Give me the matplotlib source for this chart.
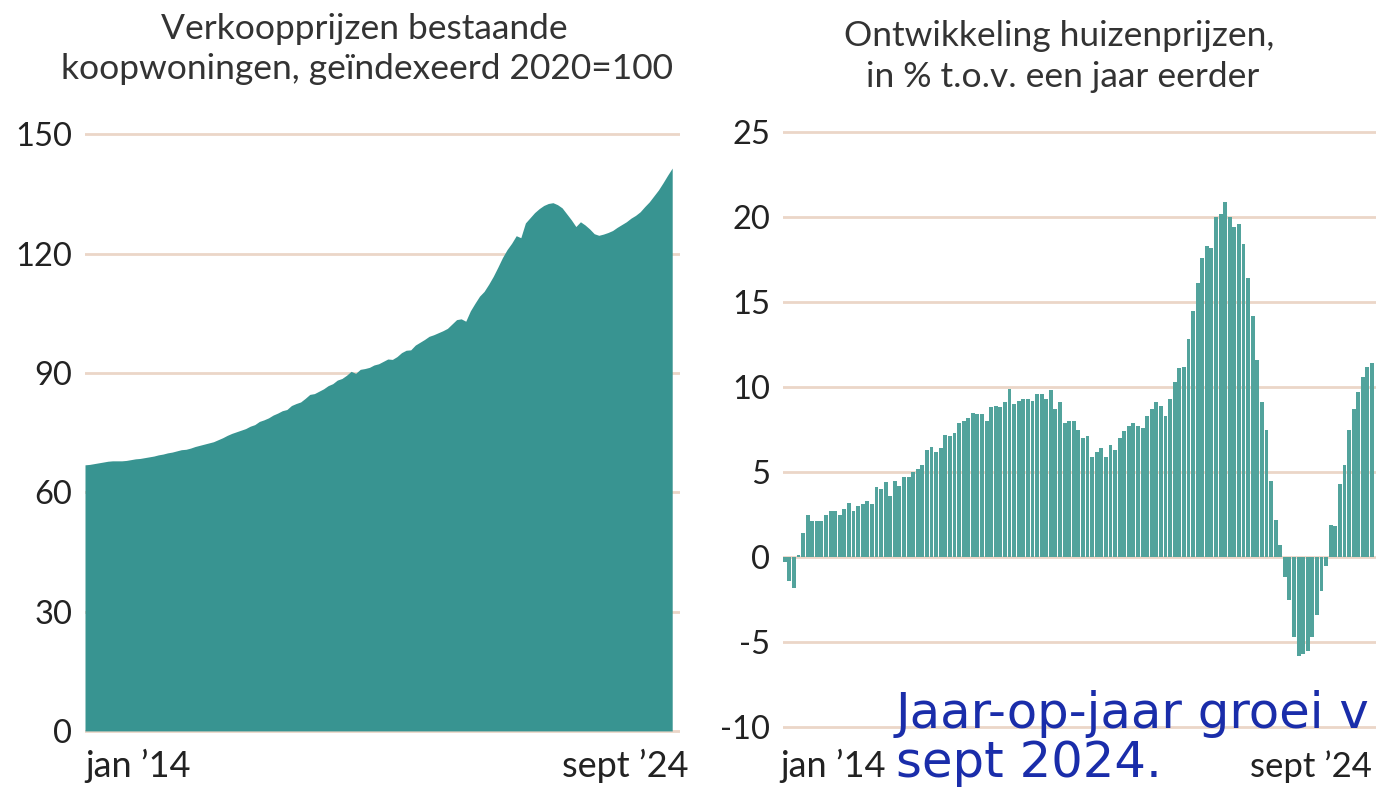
import matplotlib.pyplot as plt
import numpy as np

# verkoopprijzen bestaande koopwoningen, index 2020=100, jan 2014 - sept 2024
prices = [
    66.9, 67.0, 67.2, 67.4, 67.6, 67.8, 67.9, 67.9, 67.9, 68.0, 68.2, 68.4,
    68.5, 68.7, 68.9, 69.1, 69.4, 69.6, 69.9, 70.1, 70.4, 70.7, 70.8, 71.1,
    71.5, 71.8, 72.1, 72.4, 72.7, 73.2, 73.7, 74.3, 74.8, 75.2, 75.6, 76.0,
    76.6, 77.0, 77.8, 78.2, 78.7, 79.4, 79.9, 80.5, 80.8, 81.8, 82.3, 82.7,
    83.6, 84.6, 84.8, 85.4, 86.0, 86.8, 87.3, 88.2, 88.6, 89.4, 90.4, 89.9,
    90.9, 91.1, 91.4, 92.0, 92.3, 92.9, 93.5, 93.4, 94.1, 95.1, 95.7, 95.8,
    97.0, 97.7, 98.4, 99.2, 99.6, 100.1, 100.6, 101.2, 102.3, 103.4, 103.6, 103.0,
    105.6, 107.5, 109.3, 110.5, 112.3, 114.3, 116.6, 119.0, 121.0, 122.6, 124.5, 124.0,
    127.7, 129.0, 130.3, 131.3, 132.1, 132.6, 132.8, 132.3, 131.5, 130.0, 128.5, 126.8,
    128.0, 127.2, 126.2, 125.0, 124.6, 124.9, 125.3, 125.8, 126.6, 127.3, 128.0, 128.9,
    129.6, 130.5, 131.8, 133.0, 134.5, 136.0, 137.8, 139.7, 141.5,
]

# ontwikkeling huizenprijzen, % t.o.v. een jaar eerder
yoy = [
    -0.3, -1.4, -1.8, 0.1, 1.4, 2.5, 2.1, 2.1, 2.1, 2.5, 2.7, 2.7,
    2.5, 2.8, 3.2, 2.7, 3.0, 3.1, 3.3, 3.1, 4.1, 4.0, 4.4, 3.6,
    4.5, 4.2, 4.7, 4.7, 5.0, 5.2, 5.4, 6.3, 6.5, 6.2, 6.4, 7.2,
    7.1, 7.3, 7.9, 8.0, 8.2, 8.5, 8.4, 8.4, 8.0, 8.8, 8.9, 8.8,
    9.1, 9.9, 9.0, 9.2, 9.3, 9.3, 9.2, 9.6, 9.6, 9.3, 9.8, 8.7,
    9.1, 7.9, 8.0, 8.0, 7.5, 7.0, 7.1, 5.9, 6.2, 6.4, 5.9, 6.6,
    6.3, 7.0, 7.4, 7.7, 7.9, 7.7, 7.6, 8.3, 8.7, 9.1, 8.9, 8.3,
    9.3, 10.3, 11.1, 11.2, 12.8, 14.5, 16.1, 17.6, 18.3, 18.2, 20.0, 20.2,
    20.9, 20.0, 19.4, 19.6, 18.4, 16.4, 14.2, 11.6, 9.1, 7.5, 4.5, 2.2,
    0.7, -1.2, -2.5, -4.7, -5.8, -5.7, -5.5, -4.7, -3.4, -2.0, -0.5, 1.9,
    1.8, 4.3, 5.4, 7.5, 8.7, 9.7, 10.6, 11.2, 11.4,
]

left_ticks = [0, 30, 60, 90, 120, 150]
right_ticks = [-10, -5, 0, 5, 10, 15, 20, 25]
first_label = "jan \u201914"
last_label = "sept \u201924"

W, H = 1376, 790
TEAL = "#389491"
BAR = "#52A39C"
GRID = "#EBD6C8"
INK = "#222222"
TITLE = "#333333"

plt.rcParams["font.family"] = ["Lato", "DejaVu Sans"]

fig = plt.figure(figsize=(W / 100, H / 100), dpi=100)


def axes_px(left, top, right, bottom):
    return fig.add_axes([left / W, 1 - bottom / H, (right - left) / W, (bottom - top) / H])


def text_px(x, y, s, **kw):
    fig.text(x / W, 1 - y / H, s, **kw)


def style(ax, ticks):
    ax.set_yticks(ticks)
    ax.set_yticklabels([str(t) for t in ticks])
    ax.set_xticks([])
    ax.tick_params(axis="y", length=0, pad=9, labelsize=23.5, labelcolor=INK)
    for s in ax.spines.values():
        s.set_visible(False)
    for t in ticks:
        ax.axhline(t, color=GRID, lw=2, zorder=0)


# left: index area
ax1 = axes_px(85, 130.3, 680, 733.3)
x = np.arange(len(prices))
ax1.fill_between(x, prices, 0, color=TEAL, lw=0, zorder=2)
ax1.set_xlim(0, 129.7)
ax1.set_ylim(-0.6, 151)
style(ax1, left_ticks)

# right: yoy bars
ax2 = axes_px(783, 128.6, 1400, 730.4)
x2 = np.arange(len(yoy))
ax2.bar(x2, yoy, width=0.85, color=BAR, lw=0, zorder=2)
ax2.set_xlim(-0.37, 134.1)
ax2.set_ylim(-10.2, 25.2)
style(ax2, right_ticks)

# titles
text_px(364, 39, "Verkoopprijzen bestaande", ha="center", va="baseline", fontsize=25.5, color=TITLE)
text_px(367, 79, "koopwoningen, ge\u00efndexeerd 2020=100", ha="center", va="baseline", fontsize=25.5, color=TITLE)
text_px(1059, 46, "Ontwikkeling huizenprijzen,", ha="center", va="baseline", fontsize=25.5, color=TITLE)
text_px(1063, 87, "in % t.o.v. een jaar eerder", ha="center", va="baseline", fontsize=25.5, color=TITLE)

# x labels
text_px(85, 777, first_label, ha="left", va="baseline", fontsize=26, color=INK)
text_px(689, 777, last_label, ha="right", va="baseline", fontsize=26, color=INK)
text_px(780, 777, first_label, ha="left", va="baseline", fontsize=26, color=INK)
text_px(1250, 777, last_label, ha="left", va="baseline", fontsize=25, color=INK)

# overlay note
text_px(896, 728, "Jaar-op-jaar groei v", ha="left", va="baseline", fontsize=35.8,
        color="#1A2DAA", family="DejaVu Sans")
text_px(896, 777, "sept 2024.", ha="left", va="baseline", fontsize=35.8,
        color="#1A2DAA", family="DejaVu Sans")

fig.savefig("out.png", dpi=100)
